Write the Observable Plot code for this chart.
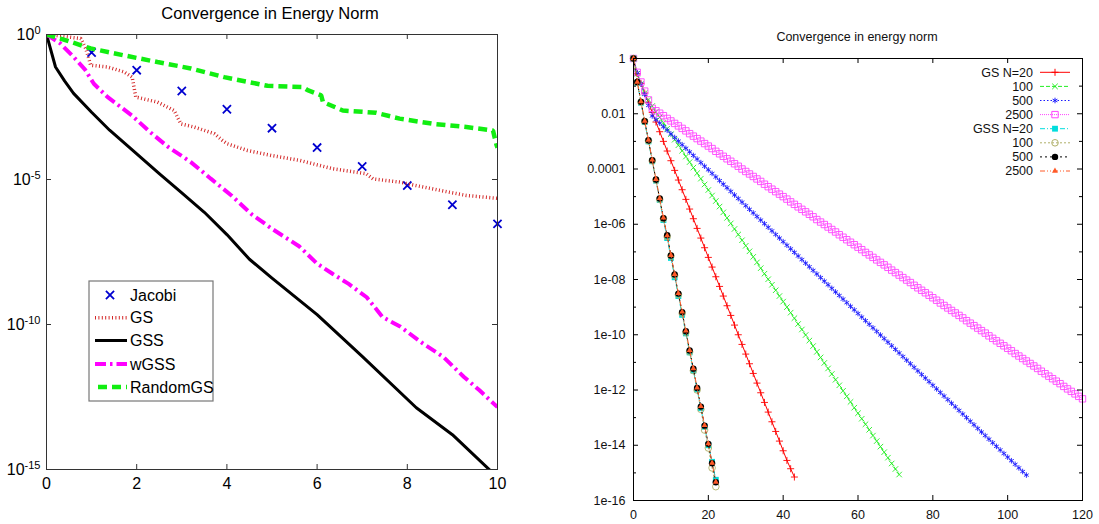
<!DOCTYPE html>
<html><head><meta charset="utf-8">
<script src="https://cdn.jsdelivr.net/npm/d3@7"></script>
<script src="https://cdn.jsdelivr.net/npm/@observablehq/plot@0.6"></script>
<style>
body{margin:0;background:#fff;width:1099px;height:524px;overflow:hidden;position:relative}
.abs{position:absolute}
</style></head><body>
<div id="left" class="abs" style="left:0;top:0"></div>
<div id="right" class="abs" style="left:560px;top:0"></div>
<div id="over" class="abs" style="left:0;top:0;pointer-events:none"></div>
<script>
// ---------- LEFT PANEL DATA (x = time, y = log10 of energy-norm error) ----------
const leftTitle = "Convergence in Energy Norm";
const leftXTicks = [0, 2, 4, 6, 8, 10];
const leftYTickExp = [0, -5, -10, -15];
const leftLegend = ["Jacobi", "GS", "GSS", "wGSS", "RandomGS"];

const jacX = [1, 2, 3, 4, 5, 6, 7, 8, 9, 10];
const jacY = [-0.62, -1.23, -1.95, -2.58, -3.23, -3.9, -4.55, -5.21, -5.87, -6.53];

const gsX = [0, 0.3, 0.76, 0.87, 0.98, 1.35, 1.72, 1.9, 1.98, 2.46, 2.83, 2.98, 3.27, 3.72, 3.9, 4.01, 4.46, 4.98, 5.61, 6.35, 7.09, 7.24, 7.83, 8.2, 8.94, 9.31, 10];
const gsY = [0, -0.05, -0.14, -0.48, -1.06, -1.12, -1.29, -1.47, -2.16, -2.33, -2.62, -3.08, -3.19, -3.42, -3.65, -3.77, -4.0, -4.17, -4.34, -4.63, -4.8, -4.98, -5.09, -5.21, -5.44, -5.55, -5.65];

const gssX = [0, 0.2, 0.4, 0.6, 1.0, 1.4, 1.9, 2.5, 3.0, 3.5, 4.0, 4.5, 5.0, 6.0, 7.0, 8.2, 9.0, 9.85, 10];
const gssY = [0, -1.12, -1.6, -2.03, -2.68, -3.3, -3.98, -4.8, -5.46, -6.13, -6.9, -7.75, -8.4, -9.66, -11.1, -12.87, -13.8, -15.05, -15.3];

const wgssX = [0, 0.3, 0.6, 0.85, 1.05, 1.35, 1.9, 2.3, 2.7, 3.2, 3.65, 4.1, 4.55, 5.0, 5.6, 6.0, 6.35, 6.7, 7.1, 7.45, 7.85, 8.35, 8.8, 9.25, 9.6, 10];
const wgssY = [0, -0.3, -0.77, -1.2, -1.7, -2.15, -2.8, -3.37, -3.88, -4.4, -4.98, -5.55, -6.2, -6.7, -7.3, -7.9, -8.26, -8.6, -9.06, -9.74, -10.08, -10.66, -11.12, -11.8, -12.27, -12.85];

const rgsX = [0, 0.31, 0.98, 1.72, 2.46, 3.2, 3.94, 4.9, 5.68, 5.79, 6.09, 6.13, 6.57, 7.31, 7.83, 8.57, 9.31, 9.9, 9.98, 10];
const rgsY = [0, -0.14, -0.48, -0.72, -0.95, -1.17, -1.47, -1.77, -1.81, -1.92, -2.1, -2.33, -2.62, -2.7, -2.9, -3.08, -3.19, -3.31, -3.82, -3.9];

// ---------- RIGHT PANEL DATA (x = iteration index, y = log10 of error) ----------
const rightTitle = "Convergence in energy norm";
const rightXTicks = [0, 20, 40, 60, 80, 100, 120];
const rightYTickExp = [0, -2, -4, -6, -8, -10, -12, -14, -16];
const rightYTickLabels = ["1", "0.01", "0.0001", "1e-06", "1e-08", "1e-10", "1e-12", "1e-14", "1e-16"];
const rightYMinorExp = [-1, -3, -5, -7, -9, -11, -13, -15];
const rightLegend = ["GS N=20", "100", "500", "2500", "GSS N=20", "100", "500", "2500"];

const gs20 = [0, -0.55, -0.9, -1.25, -1.6, -1.95, -2.3, -2.65, -3.0, -3.35, -3.7, -4.05, -4.4, -4.75, -5.1, -5.45, -5.8, -6.15, -6.5, -6.85, -7.2, -7.55, -7.9, -8.25, -8.6, -8.95, -9.3, -9.65, -10.0, -10.35, -10.7, -11.05, -11.4, -11.75, -12.1, -12.45, -12.8, -13.15, -13.5, -13.85, -14.2, -14.55, -14.85, -15.15];
const gs100 = [0, -0.55, -0.92, -1.25, -1.5, -1.72, -1.93, -2.13, -2.33, -2.54, -2.74, -2.94, -3.14, -3.34, -3.55, -3.75, -3.95, -4.15, -4.35, -4.56, -4.76, -4.96, -5.16, -5.36, -5.57, -5.77, -5.97, -6.17, -6.37, -6.58, -6.78, -6.98, -7.18, -7.38, -7.59, -7.79, -7.99, -8.19, -8.39, -8.6, -8.8, -9.0, -9.2, -9.4, -9.61, -9.81, -10.01, -10.21, -10.41, -10.62, -10.82, -11.02, -11.22, -11.42, -11.63, -11.83, -12.03, -12.23, -12.43, -12.64, -12.84, -13.04, -13.24, -13.44, -13.65, -13.85, -14.05, -14.25, -14.45, -14.66, -14.86, -15.06];
const gs500 = [0, -0.52, -0.92, -1.3, -1.7, -2.08, -2.21, -2.34, -2.47, -2.6, -2.73, -2.86, -2.99, -3.12, -3.25, -3.38, -3.51, -3.64, -3.77, -3.9, -4.03, -4.16, -4.29, -4.42, -4.55, -4.68, -4.81, -4.94, -5.07, -5.2, -5.33, -5.46, -5.59, -5.72, -5.85, -5.98, -6.11, -6.24, -6.37, -6.5, -6.63, -6.76, -6.89, -7.02, -7.15, -7.28, -7.41, -7.54, -7.67, -7.8, -7.93, -8.06, -8.19, -8.32, -8.45, -8.58, -8.71, -8.84, -8.97, -9.1, -9.23, -9.36, -9.49, -9.62, -9.75, -9.88, -10.01, -10.14, -10.27, -10.4, -10.53, -10.66, -10.79, -10.92, -11.05, -11.18, -11.31, -11.44, -11.57, -11.7, -11.83, -11.96, -12.09, -12.22, -12.35, -12.48, -12.61, -12.74, -12.87, -13.0, -13.13, -13.26, -13.39, -13.52, -13.65, -13.78, -13.91, -14.04, -14.17, -14.3, -14.43, -14.56, -14.69, -14.82, -14.95, -15.08];
const gs2500 = [0, -0.5, -0.85, -1.18, -1.5, -1.8, -1.89, -1.98, -2.07, -2.17, -2.26, -2.35, -2.44, -2.53, -2.62, -2.72, -2.81, -2.9, -2.99, -3.08, -3.17, -3.26, -3.36, -3.45, -3.54, -3.63, -3.72, -3.81, -3.9, -4.0, -4.09, -4.18, -4.27, -4.36, -4.45, -4.55, -4.64, -4.73, -4.82, -4.91, -5.0, -5.09, -5.19, -5.28, -5.37, -5.46, -5.55, -5.64, -5.73, -5.83, -5.92, -6.01, -6.1, -6.19, -6.28, -6.38, -6.47, -6.56, -6.65, -6.74, -6.83, -6.92, -7.02, -7.11, -7.2, -7.29, -7.38, -7.47, -7.56, -7.66, -7.75, -7.84, -7.93, -8.02, -8.11, -8.21, -8.3, -8.39, -8.48, -8.57, -8.66, -8.75, -8.85, -8.94, -9.03, -9.12, -9.21, -9.3, -9.39, -9.49, -9.58, -9.67, -9.76, -9.85, -9.94, -10.04, -10.13, -10.22, -10.31, -10.4, -10.49, -10.58, -10.68, -10.77, -10.86, -10.95, -11.04, -11.13, -11.22, -11.32, -11.41, -11.5, -11.59, -11.68, -11.77, -11.87, -11.96, -12.05, -12.14, -12.23, -12.32];
const gss20 = [0, -0.88, -1.6, -2.3, -3.0, -3.72, -4.42, -5.12, -5.85, -6.5, -7.22, -7.92, -8.6, -9.28, -9.95, -10.64, -11.3, -11.98, -12.66, -13.33, -14.0, -14.6, -15.25];
const gss100 = [0, -0.86, -1.58, -2.28, -2.98, -3.7, -4.4, -5.1, -5.8, -6.45, -7.15, -7.85, -8.55, -9.22, -9.92, -10.62, -11.3, -12.0, -12.7, -13.45, -14.1, -14.82, -15.5];
const gss500 = [0, -0.85, -1.57, -2.27, -2.96, -3.68, -4.38, -5.07, -5.78, -6.4, -7.13, -7.82, -8.51, -9.18, -9.87, -10.57, -11.23, -11.93, -12.6, -13.29, -13.95, -14.65, -15.34];
const gss2500 = [0, -0.85, -1.56, -2.26, -2.95, -3.67, -4.37, -5.06, -5.77, -6.41, -7.12, -7.81, -8.5, -9.17, -9.86, -10.56, -11.22, -11.92, -12.59, -13.28, -13.94, -14.64, -15.33];

// ---------- helpers ----------
const pts = (xs, ys) => ys.map((e, i) => ({x: xs[i], y: Math.pow(10, e)}));
const byIndex = ys => ys.map((e, i) => ({x: i, y: Math.pow(10, e)}));

// ---------- LEFT PLOT ----------
const LW = 520, LH = 524, Lml = 46, Lmr = 23, Lmt = 34, Lmb = 55;
const LfW = LW - Lml - Lmr, LfH = LH - Lmt - Lmb;
const leftStyles = {
  Jacobi: {stroke: "#0000d0"},
  GS: {stroke: "#d42a2a", strokeWidth: 3.5, strokeDasharray: "1,2.4"},
  GSS: {stroke: "#000", strokeWidth: 3},
  wGSS: {stroke: "#ff00ff", strokeWidth: 4, strokeDasharray: "11,4,2.5,4"},
  RandomGS: {stroke: "#11ee11", strokeWidth: 4.5, strokeDasharray: "9,5"}
};
const leftYTicks = leftYTickExp.map(e => Math.pow(10, e));
const lineOpts = {x: "x", y: "y", clip: true, strokeLinecap: "butt", strokeLinejoin: "miter"};
const leftPlot = Plot.plot({
  width: LW, height: LH, marginLeft: Lml, marginRight: Lmr, marginTop: Lmt, marginBottom: Lmb,
  style: {fontFamily: "'Liberation Sans', Arial, sans-serif", fontSize: "16px", color: "#000", background: "transparent"},
  x: {domain: [0, 10], label: null},
  y: {type: "log", domain: [1e-15, 1], label: null},
  marks: [
    Plot.dot(pts(jacX, jacY), {x: "x", y: "y", symbol: "times", r: 3.8, stroke: leftStyles.Jacobi.stroke, strokeWidth: 1.8}),
    Plot.line(pts(gsX, gsY), {...lineOpts, ...leftStyles.GS}),
    Plot.line(pts(gssX, gssY), {...lineOpts, ...leftStyles.GSS, strokeLinejoin: "round"}),
    Plot.line(pts(wgssX, wgssY), {...lineOpts, ...leftStyles.wGSS}),
    Plot.line(pts(rgsX, rgsY), {...lineOpts, ...leftStyles.RandomGS}),
    Plot.frame({stroke: "#333"}),
    Plot.tickX(leftXTicks, {x: d => d, insetTop: LfH - 5, stroke: "#333"}),
    Plot.tickX(leftXTicks, {x: d => d, insetBottom: LfH - 5, stroke: "#333"}),
    Plot.tickY(leftYTicks, {y: d => d, insetRight: LfW - 5, stroke: "#333"}),
    Plot.tickY(leftYTicks, {y: d => d, insetLeft: LfW - 5, stroke: "#333"}),
    Plot.axisX({ticks: leftXTicks, tickSize: 0, tickPadding: 8, label: null}),
    Plot.axisY({ticks: leftYTicks, tickSize: 0, tickPadding: 6, label: null,
      tickFormat: v => "10^" + leftYTickExp[leftYTicks.indexOf(v)]})
  ]
});
document.getElementById("left").appendChild(leftPlot);
// superscripts for 10^e labels
d3.select(leftPlot).selectAll('g[aria-label="y-axis tick label"] text').each(function () {
  const t = this.textContent;
  if (!t.includes("^")) return;
  const [b, e] = t.split("^");
  const s = d3.select(this);
  s.text("");
  s.append("tspan").text(b);
  s.append("tspan").attr("dy", "-0.55em").attr("font-size", "11px").text(e);
});

// ---------- RIGHT PLOT ----------
const RW = 539, RH = 524, Rml = 73, Rmr = 17, Rmt = 58, Rmb = 24;
const RfW = RW - Rml - Rmr, RfH = RH - Rmt - Rmb;
const rightSeries = [
  {vals: gs20, stroke: "#ff0000", dash: null, symbol: "plus", r: 2.4, fill: false},
  {vals: gs100, stroke: "#22ee22", dash: "4,2", symbol: "times", r: 2.6, fill: false},
  {vals: gs500, stroke: "#1a1aff", dash: "1.5,2", symbol: "asterisk", r: 2.6, fill: false},
  {vals: gs2500, stroke: "#ff44ff", dash: "1,1", symbol: "square", r: 3.6, fill: false},
  {vals: gss20, stroke: "#00dddd", dash: "5,2,1,2", symbol: "square", r: 3.3, fill: true},
  {vals: gss100, stroke: "#b0b068", dash: "2,2", symbol: "circle", r: 3.3, fill: false},
  {vals: gss500, stroke: "#000000", dash: "2,3", symbol: "circle", r: 3.2, fill: true},
  {vals: gss2500, stroke: "#ff5a28", dash: "5,2,1,2,1,2", symbol: "triangle", r: 2.2, fill: true}
];
const rightYTicks = rightYTickExp.map(e => Math.pow(10, e));
const rightYMinor = rightYMinorExp.map(e => Math.pow(10, e));
const rMarks = [];
for (const s of rightSeries) {
  const data = byIndex(s.vals);
  rMarks.push(Plot.line(data, {x: "x", y: "y", stroke: s.stroke, strokeWidth: 1, strokeDasharray: s.dash, strokeLinecap: "butt"}));
  rMarks.push(Plot.dot(data, s.fill
    ? {x: "x", y: "y", symbol: s.symbol, r: s.r, fill: s.stroke, stroke: "none"}
    : {x: "x", y: "y", symbol: s.symbol, r: s.r, stroke: s.stroke, strokeWidth: 0.9, fill: "none"}));
}
const rightPlot = Plot.plot({
  width: RW, height: RH, marginLeft: Rml, marginRight: Rmr, marginTop: Rmt, marginBottom: Rmb,
  style: {fontFamily: "'Liberation Sans Narrow', 'Arial Narrow', 'Liberation Sans', sans-serif", fontSize: "12.5px", color: "#111", background: "transparent"},
  x: {domain: [0, 120], label: null},
  y: {type: "log", domain: [1e-16, 1], label: null},
  marks: [
    ...rMarks,
    Plot.frame({stroke: "#000"}),
    Plot.tickX(rightXTicks, {x: d => d, insetTop: RfH - 5, stroke: "#000"}),
    Plot.tickX(rightXTicks, {x: d => d, insetBottom: RfH - 5, stroke: "#000"}),
    Plot.tickY(rightYTicks, {y: d => d, insetRight: RfW - 5, stroke: "#000"}),
    Plot.tickY(rightYTicks, {y: d => d, insetLeft: RfW - 5, stroke: "#000"}),
    Plot.tickY(rightYMinor, {y: d => d, insetRight: RfW - 3, stroke: "#000"}),
    Plot.tickY(rightYMinor, {y: d => d, insetLeft: RfW - 3, stroke: "#000"}),
    Plot.axisX({ticks: rightXTicks, tickSize: 0, tickPadding: 10, label: null}),
    Plot.axisY({ticks: rightYTicks, tickSize: 0, tickPadding: 8, label: null,
      tickFormat: v => rightYTickLabels[rightYTicks.indexOf(v)]})
  ]
});
document.getElementById("right").appendChild(rightPlot);

// ---------- overlay: titles and legends ----------
const svg = d3.create("svg").attr("width", 1099).attr("height", 524).attr("viewBox", "0 0 1099 524");
svg.append("text").attr("x", 270).attr("y", 19).attr("text-anchor", "middle")
  .attr("font-family", "'Liberation Sans', Arial, sans-serif").attr("font-size", "16.5px").text(leftTitle);
svg.append("text").attr("x", 857).attr("y", 41).attr("text-anchor", "middle")
  .attr("font-family", "'Liberation Sans Narrow', 'Arial Narrow', 'Liberation Sans', sans-serif").attr("font-size", "12.5px").attr("fill", "#111").text(rightTitle);

// left legend
const lg = svg.append("g");
lg.append("rect").attr("x", 89).attr("y", 281).attr("width", 124).attr("height", 120)
  .attr("fill", "#fff").attr("stroke", "#777").attr("stroke-width", 1.2);
const lRows = [295, 317.7, 340.5, 364, 387];
leftLegend.forEach((name, i) => {
  const y = lRows[i];
  const st = leftStyles[name];
  if (name === "Jacobi") {
    lg.append("path").attr("d", d3.symbol(d3.symbolTimes, 45)()).attr("transform", `translate(110,${y})`)
      .attr("stroke", st.stroke).attr("stroke-width", 1.8).attr("fill", "none");
  } else {
    lg.append("line").attr("x1", name === "RandomGS" ? 98 : 95).attr("x2", 127).attr("y1", y).attr("y2", y)
      .attr("stroke", st.stroke).attr("stroke-width", st.strokeWidth).attr("stroke-dasharray", st.strokeDasharray || null);
  }
  lg.append("text").attr("x", 130).attr("y", y + 5.7).attr("font-family", "'Liberation Sans', Arial, sans-serif")
    .attr("font-size", "16px").text(name);
});

// right legend
const rg = svg.append("g");
const symMap = {plus: d3.symbolPlus, times: d3.symbolTimes, asterisk: d3.symbolAsterisk, square: d3.symbolSquare, circle: d3.symbolCircle, triangle: d3.symbolTriangle};
rightLegend.forEach((name, i) => {
  const y = 72.3 + i * 14.1;
  const s = rightSeries[i];
  rg.append("text").attr("x", 1033).attr("y", y + 4.4).attr("text-anchor", "end")
    .attr("font-family", "'Liberation Sans Narrow', 'Arial Narrow', 'Liberation Sans', sans-serif").attr("font-size", "12.5px").attr("fill", "#111").text(name);
  rg.append("line").attr("x1", 1040).attr("x2", 1070).attr("y1", y).attr("y2", y)
    .attr("stroke", s.stroke).attr("stroke-width", 1).attr("stroke-dasharray", s.dash);
  const p = rg.append("path").attr("d", d3.symbol(symMap[s.symbol], Math.PI * s.r * s.r)()).attr("transform", `translate(1055,${y})`);
  if (s.fill) p.attr("fill", s.stroke); else p.attr("fill", "none").attr("stroke", s.stroke);
});
document.getElementById("over").appendChild(svg.node());
</script>
</body></html>
